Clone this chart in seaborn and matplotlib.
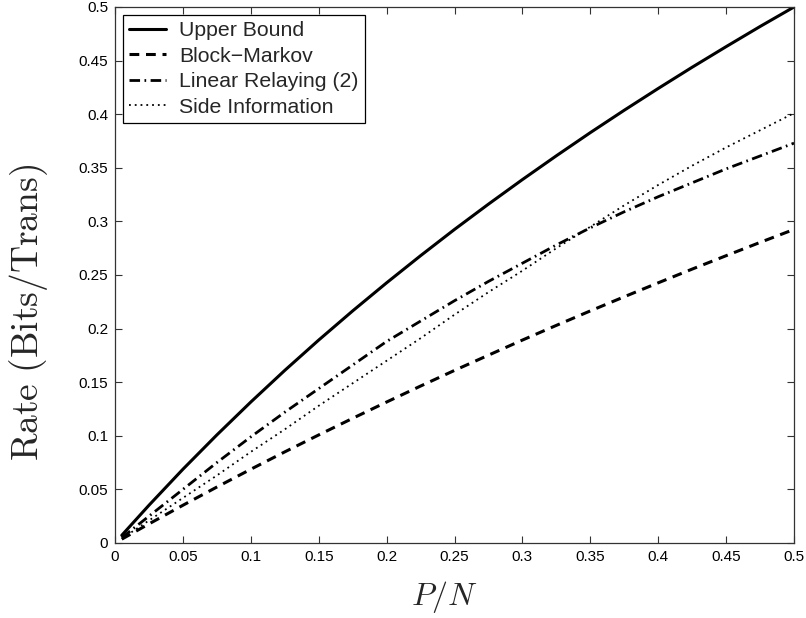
import matplotlib
matplotlib.use("Agg")
import matplotlib.pyplot as plt
import seaborn as sns
import pandas as pd

# ---- data ----
pn = [0.005, 0.025, 0.05, 0.075, 0.1, 0.125, 0.15, 0.175, 0.2, 0.225, 0.25,
      0.275, 0.3, 0.325, 0.35, 0.375, 0.4, 0.425, 0.45, 0.475, 0.5]
upper_bound = [0.0072, 0.0352, 0.0688, 0.1008, 0.1315, 0.1610, 0.1893, 0.2165,
               0.2427, 0.2680, 0.2925, 0.3161, 0.3390, 0.3612, 0.3828, 0.4037,
               0.4240, 0.4438, 0.4630, 0.4818, 0.5000]
block_markov = [0.0036, 0.0178, 0.0352, 0.0522, 0.0688, 0.0850, 0.1008, 0.1163,
                0.1315, 0.1464, 0.1610, 0.1752, 0.1893, 0.2030, 0.2165, 0.2297,
                0.2427, 0.2555, 0.2680, 0.2804, 0.2925]
linear_relaying = [0.005, 0.025, 0.050, 0.075, 0.099, 0.122, 0.144, 0.166, 0.188,
                   0.207, 0.226, 0.244, 0.261, 0.278, 0.294, 0.309, 0.323, 0.336,
                   0.349, 0.361, 0.373]
side_information = [0.004, 0.021, 0.042, 0.063, 0.085, 0.106, 0.128, 0.149, 0.170,
                    0.191, 0.213, 0.234, 0.254, 0.275, 0.295, 0.315, 0.334, 0.352,
                    0.369, 0.385, 0.401]

series_names = ["Upper Bound", "Block\u2212Markov", "Linear Relaying (2)", "Side Information"]
tick_values = [0, 0.05, 0.1, 0.15, 0.2, 0.25, 0.3, 0.35, 0.4, 0.45, 0.5]
tick_labels = ["0", "0.05", "0.1", "0.15", "0.2", "0.25", "0.3", "0.35", "0.4", "0.45", "0.5"]
x_label = r"$P/N$"
y_label = r"$\mathrm{Rate\ (Bits/Trans)}$"

# ---- styling ----
sns.set_style("ticks")
plt.rcParams["font.family"] = ["Liberation Sans", "DejaVu Sans"]
plt.rcParams["mathtext.fontset"] = "cm"

fig = plt.figure(figsize=(8.06, 6.18), dpi=100)
ax = fig.add_axes([115 / 806, (618 - 543) / 618, (794 - 115) / 806, (543 - 7) / 618])

styles = [
    dict(lw=2.2, ls="-"),
    dict(lw=2.2, ls=(0, (3.2, 2.2))),
    dict(lw=2.0, ls=(0, (3.8, 1.6, 0.6, 1.6))),
    dict(lw=1.3, ls=(0, (1.0, 2.2))),
]
all_series = [upper_bound, block_markov, linear_relaying, side_information]

for name, vals, st in zip(series_names, all_series, styles):
    df = pd.DataFrame({"x": pn, "y": vals})
    sns.lineplot(data=df, x="x", y="y", ax=ax, color="black", label=name,
                 linewidth=st["lw"])
    line = ax.get_lines()[-1]
    line.set_linestyle(st["ls"])
    line.set_dash_capstyle("butt")

ax.set_xlim(0, 0.5)
ax.set_ylim(0, 0.5)
ax.set_xticks(tick_values)
ax.set_xticklabels(tick_labels)
ax.set_yticks(tick_values)
ax.set_yticklabels(tick_labels)
ax.tick_params(direction="in", length=5, width=0.8, color="#333333",
               labelsize=11, top=True, right=True, pad=5, labelcolor="black")
for sp in ax.spines.values():
    sp.set_visible(True)
    sp.set_color("#333333")
    sp.set_linewidth(0.9)

ax.set_xlabel(x_label, fontsize=23)
ax.set_ylabel(y_label, fontsize=27)
ax.xaxis.set_label_coords(0.4845, -0.068)
ax.yaxis.set_label_coords(-0.096, 0.43)

leg = ax.legend(loc="upper left", fontsize=15.3, frameon=True, fancybox=False,
                edgecolor="black", framealpha=1, handlelength=1.73,
                borderaxespad=0.38, labelspacing=0.3, handletextpad=0.6,
                borderpad=0.3)
leg.get_frame().set_linewidth(0.9)

fig.savefig("out.png", dpi=100)
